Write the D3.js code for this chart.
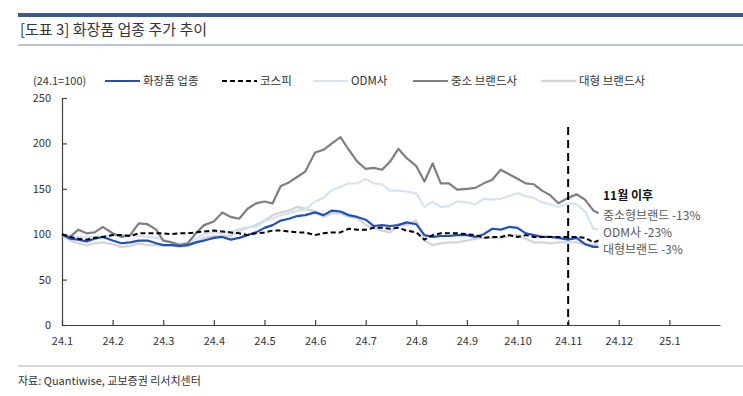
<!DOCTYPE html>
<html>
<head>
<meta charset="utf-8">
<script src="https://cdn.jsdelivr.net/npm/d3@7"></script>
<style>
  body { margin: 0; background: #fff; font-family: "Noto Sans CJK KR", "Noto Sans", sans-serif; }
</style>
</head>
<body>
<div id="chart"></div>
<script>
// sample dates (roughly every 5 days)
const dates = [
  "2024-01-01","2024-01-06","2024-01-11","2024-01-16","2024-01-21","2024-01-26",
  "2024-02-01","2024-02-06","2024-02-11","2024-02-16","2024-02-21","2024-02-26",
  "2024-03-01","2024-03-06","2024-03-11","2024-03-16","2024-03-21","2024-03-26",
  "2024-04-01","2024-04-06","2024-04-11","2024-04-16","2024-04-21","2024-04-26",
  "2024-05-01","2024-05-06","2024-05-11","2024-05-16","2024-05-21","2024-05-26",
  "2024-06-01","2024-06-06","2024-06-11","2024-06-16","2024-06-21","2024-06-26",
  "2024-07-01","2024-07-06","2024-07-11","2024-07-16","2024-07-21","2024-07-26",
  "2024-08-01","2024-08-06","2024-08-11","2024-08-16","2024-08-21","2024-08-26",
  "2024-09-01","2024-09-06","2024-09-11","2024-09-16","2024-09-21","2024-09-26",
  "2024-10-01","2024-10-06","2024-10-11","2024-10-16","2024-10-21","2024-10-26",
  "2024-11-01","2024-11-06","2024-11-11","2024-11-16","2024-11-19"
];

const cosmetics = [100,95,94,92,95,97, 93,90,91,93,93,90, 88,88,87,88,91,93, 96,97,94,96,99,102,
  107,110,115,117,120,121, 124,121,126,125,121,119, 116,109,110,109,110,113, 111,99,97,98,98,99,
  99,97,100,106,105,108, 107,101,99,97,97,96, 94,96,89,86,86];
const kospi = [100,97,95,94,96,97, 99,99,98,101,101,101, 101,100,101,101,102,103, 104,103,102,101,99,101,
  102,104,104,103,102,102, 99,101,102,102,106,105, 105,107,107,106,107,104, 102,94,99,101,101,101,
  100,99,96,97,97,99, 97,99,97,97,97,97, 97,97,96,91,93];
const odm = [100,98,97,97,97,97, 98,99,99,98,97,96, 94,91,90,90,95,100, 102,101,102,106,108,108,
  114,117,121,123,126,127, 136,140,149,152,156,156, 161,156,155,148,148,147, 145,130,136,130,131,136,
  135,133,139,138,139,142, 145,142,140,135,133,130, 134,133,125,106,105];
const smallBrand = [100,97,105,101,102,108, 101,97,99,112,111,105, 93,91,88,90,101,110, 114,124,119,117,128,134,
  136,134,153,157,163,169, 190,193,200,207,193,180, 172,173,171,180,194,184, 175,158,178,156,156,149,
  150,151,156,160,171,166, 161,156,155,148,143,134, 140,144,138,126,123];
const largeBrand = [100,93,90,88,90,91, 89,86,87,90,88,88, 88,88,86,87,91,96, 98,98,98,104,107,110,
  115,121,124,126,130,128, 125,119,123,123,119,118, 110,107,104,102,111,110, 115,93,88,90,91,91,
  93,95,96,96,96,98, 99,95,91,91,90,91, 91,91,89,88,90];

const monthLabels = ["24.1","24.2","24.3","24.4","24.5","24.6","24.7","24.8","24.9","24.10","24.11","24.12","25.1"];
const yTicks = [0, 50, 100, 150, 200, 250];
const seriesNames = ["화장품 업종", "코스피", "ODM사", "중소 브랜드사", "대형 브랜드사"];
const noteLines = ["11월 이후", "중소형브랜드 -13%", "ODM사 -23%", "대형브랜드 -3%"];

// month position: 0 = 2024-01-01, 1 = 2024-02-01 ...
function monthPos(s) {
  let p = s.split("-").map(Number);
  let dim = new Date(p[0], p[1], 0).getDate();
  return (p[0] - 2024) * 12 + (p[1] - 1) + (p[2] - 1) / dim;
}

const W = 743, H = 396;
const svg = d3.select("#chart").append("svg")
  .attr("width", W).attr("height", H)
  .style("font-family", '"Noto Sans CJK KR", "Noto Sans", sans-serif');

// header
svg.append("rect").attr("x", 18).attr("y", 13).attr("width", W - 18).attr("height", 4).attr("fill", "#3d5a8c");
svg.append("text").attr("x", 20).attr("y", 35).attr("font-size", 15).attr("fill", "#333")
  .text("[도표 3] 화장품 업종 주가 추이");
svg.append("line").attr("x1", 18).attr("x2", W).attr("y1", 45).attr("y2", 45)
  .attr("stroke", "#9fb3d2").attr("stroke-width", 1.5);

// footer
svg.append("line").attr("x1", 18).attr("x2", W).attr("y1", 366).attr("y2", 366)
  .attr("stroke", "#c9c9c9").attr("stroke-width", 1.5);
svg.append("text").attr("x", 18).attr("y", 385).attr("font-size", 11).attr("fill", "#333")
  .text("자료: Quantiwise, 교보증권 리서치센터");

const x = d3.scaleLinear().domain([0, 13]).range([62, 720]);
const y = d3.scaleLinear().domain([0, 250]).range([325, 98]);

// axes
const yAxis = svg.append("g").attr("transform", "translate(62,0)")
  .call(d3.axisLeft(y).tickValues(yTicks).tickSize(-5).tickSizeOuter(0).tickPadding(11));
const xAxis = svg.append("g").attr("transform", "translate(0,325)")
  .call(d3.axisBottom(x).tickValues(d3.range(monthLabels.length))
    .tickFormat(i => monthLabels[i]).tickSize(-5).tickSizeOuter(0).tickPadding(12));
[yAxis, xAxis].forEach(a => {
  a.select(".domain").attr("stroke", "#404040").attr("stroke-width", 1.2);
  a.selectAll(".tick line").attr("stroke", "#404040").attr("stroke-width", 1.2);
  a.selectAll("text").attr("font-size", 11).attr("fill", "#333")
    .style("font-family", '"Noto Sans CJK KR", "Noto Sans", sans-serif');
});

// series
const series = [
  { name: seriesNames[4], values: largeBrand, color: "#d6d6d6", width: 2.4, dash: null },
  { name: seriesNames[2], values: odm, color: "#d5e3f4", width: 2.2, dash: null },
  { name: seriesNames[3], values: smallBrand, color: "#7f7f7f", width: 2.2, dash: null },
  { name: seriesNames[0], values: cosmetics, color: "#1f4fc1", width: 2.2, dash: null },
  { name: seriesNames[1], values: kospi, color: "#000", width: 2, dash: "5,3" }
];

const line = d3.line()
  .x((d, i) => x(monthPos(dates[i])))
  .y(d => y(d));

svg.append("g").selectAll("path")
  .data(series)
  .enter().append("path")
  .attr("d", d => line(d.values))
  .attr("fill", "none")
  .attr("stroke", d => d.color)
  .attr("stroke-width", d => d.width)
  .attr("stroke-linejoin", "round")
  .attr("stroke-dasharray", d => d.dash);

// November marker
svg.append("line")
  .attr("x1", x(monthPos("2024-11-01"))).attr("x2", x(monthPos("2024-11-01")))
  .attr("y1", 127).attr("y2", 325)
  .attr("stroke", "#000").attr("stroke-width", 2).attr("stroke-dasharray", "8,5");

// notes
const notes = svg.append("g").attr("font-size", 12);
notes.selectAll("text").data(noteLines).enter().append("text")
  .attr("x", 603)
  .attr("y", (d, i) => [200, 220, 237, 254][i])
  .attr("fill", (d, i) => i === 0 ? "#111" : "#595959")
  .attr("font-weight", (d, i) => i === 0 ? "bold" : "normal")
  .text(d => d);

// legend
svg.append("text").attr("x", 33).attr("y", 85).attr("font-size", 11).attr("fill", "#333").text("(24.1=100)");
const legendOrder = [
  { s: series[3], x0: 105 },
  { s: series[4], x0: 222 },
  { s: series[1], x0: 313 },
  { s: series[2], x0: 413 },
  { s: series[0], x0: 541 }
];
const lg = svg.append("g").selectAll("g").data(legendOrder).enter().append("g");
lg.append("line")
  .attr("x1", d => d.x0).attr("x2", d => d.x0 + 35)
  .attr("y1", 81).attr("y2", 81)
  .attr("stroke", d => d.s.color)
  .attr("stroke-width", d => d.s.width)
  .attr("stroke-dasharray", d => d.s.dash);
lg.append("text")
  .attr("x", d => d.x0 + 38).attr("y", 85)
  .attr("font-size", 11.5).attr("fill", "#333")
  .text(d => d.s.name);
</script>
</body>
</html>
